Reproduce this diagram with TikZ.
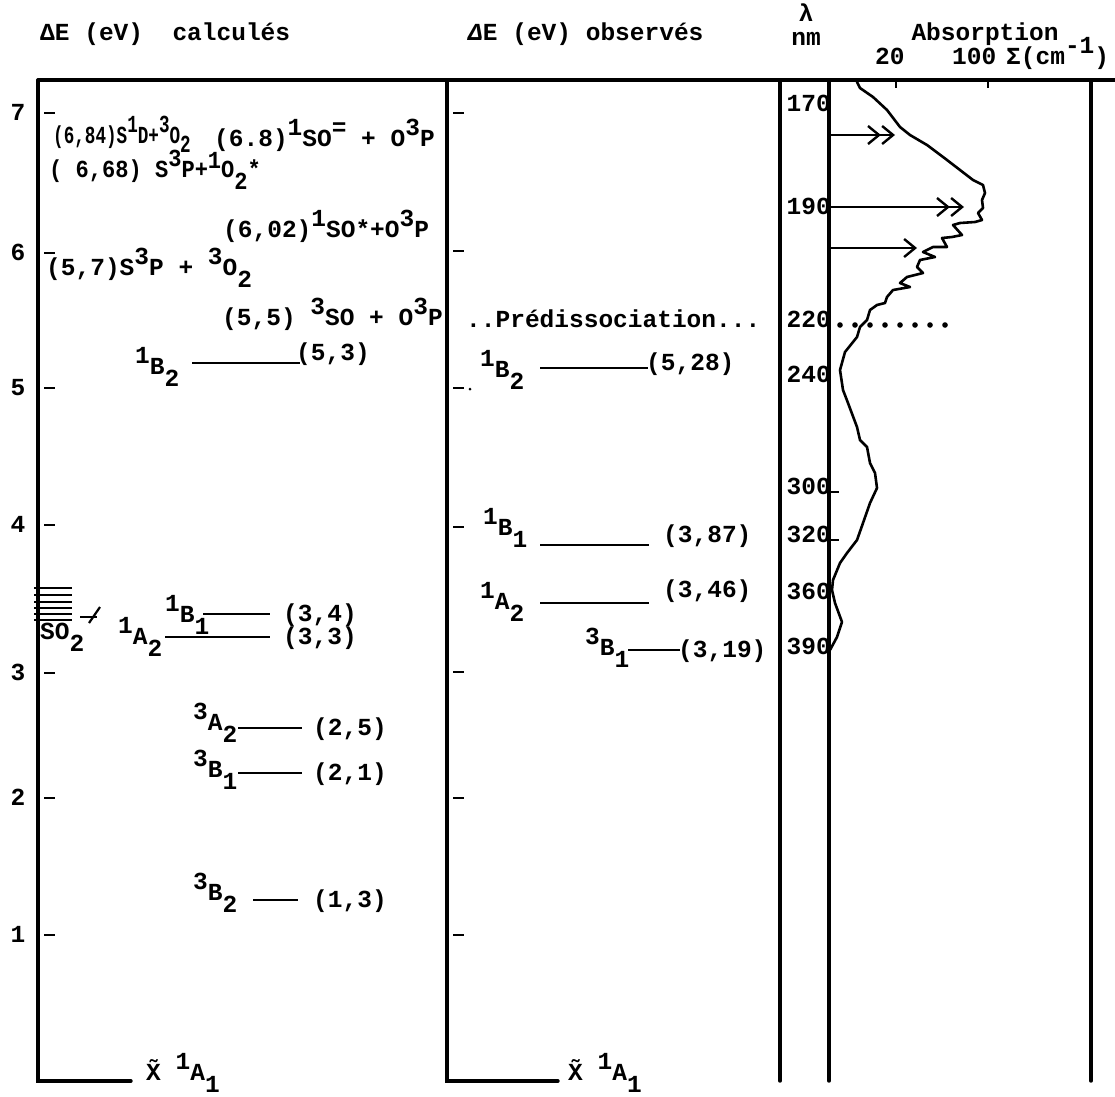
\documentclass[tikz,border=0pt]{standalone}
\usepackage{fontspec}
\newfontfamily\tw{Liberation Mono}
\usetikzlibrary{arrows.meta}
\newcommand\tsup[1]{\raisebox{11pt}{#1}}
\newcommand\tsub[1]{\raisebox{-12pt}{#1}}
\begin{document}
\begin{tikzpicture}[x=1pt,y=-1pt,
  tx/.style={font=\tw\bfseries\fontsize{24.5}{24.5}\selectfont, inner sep=0pt, anchor=base west},
  txe/.style={tx, anchor=base east},
  txc/.style={tx, anchor=base},
  frame/.style={line width=3.4pt, line cap=round},
  lvl/.style={line width=2.8pt},
  tickmark/.style={line width=2.4pt},
  curve/.style={line width=2.6pt, line join=round, line cap=round},
  arr/.style={line width=2.4pt},
  dbl/.style={arr, -{Straight Barb[length=11pt,width=18pt,line width=2.4pt] Straight Barb[length=11pt,width=18pt,line width=2.4pt]}},
  sgl/.style={arr, -{Straight Barb[length=11pt,width=18pt,line width=2.4pt]}}]

\useasboundingbox (0,0) rectangle (1115,1096);
\fill[white] (0,0) rectangle (1115,1096);

% ---------- frame ----------
\draw[frame] (38,80) -- (1115,80);
\draw[frame] (38,80) -- (38,1081) -- (131,1081);
\draw[frame] (447,80) -- (447,1081) -- (558,1081);
\draw[frame] (780,80) -- (780,1081);
\draw[frame] (829,80) -- (829,1081);
\draw[frame] (1091,80) -- (1091,1081);

% ---------- headings ----------
\node[tx] (h1) at (40,40) {ΔE (eV)~ calculés};
\node[tx] (h2) at (468,40) {{\itshape Δ}E (eV) observés};
\node[txc] (lam) at (806,21) {λ};
\node[txc] (nm) at (806,45) {nm};
\node[txc] (abs) at (985,40) {Absorption};
\node[tx] (t20) at (875,64) {20};
\node[tx] (t100) at (952,64) {100};
\node[tx] (sig) at (1006,64) {Σ(cm\tsup{-1})};
\draw[tickmark] (896,80) -- (896,88);
\draw[tickmark] (988,80) -- (988,88);

% ---------- energy axis ----------
\foreach \v/\yy in {7/113,6/253,5/388,4/525,3/673,2/798,1/935}{
  \node[txc] (ax\v) at (18,\yy+7) {\v};
  \draw[tickmark] (44,\yy) -- (55,\yy);
}
\foreach \yy in {113,251,388,527,672,798,935}{
  \draw[tickmark] (453,\yy) -- (464,\yy);
}
\fill (470,389) circle (1.5);

% ---------- calculated column ----------
\node[tx] (r1a) at (53,143) {\scalebox{0.72}[1]{(6,84)S\tsup{1}D+\tsup{3}O\raisebox{-9pt}{2}}};
\node[tx] (r1b) at (214,146) {(6.8)\tsup{1}SO\tsup{=} + O\tsup{3}P};
\node[tx] (r2) at (49,177) {\scalebox{0.9}[1]{( 6,68) S\tsup{3}P+\raisebox{9pt}{1}O\tsub{2}*}};
\node[tx] (r3) at (223,237) {(6,02)\tsup{1}SO*+O\tsup{3}P};
\node[tx] (r4) at (46,275) {(5,7)S\tsup{3}P + \tsup{3}O\tsub{2}};
\node[tx] (r5) at (222,325) {(5,5) \tsup{3}SO + O\tsup{3}P};

\node[tx] (cB2) at (135,374) {\tsup{1}B\tsub{2}};
\draw[lvl] (192,363) -- (300,363);
\node[tx] (vB2) at (296,360) {(5,3)};

\node[tx] (cB1) at (165,622) {\tsup{1}B\tsub{1}};
\draw[lvl] (203,614) -- (270,614);
\node[tx] (vB1) at (283,621) {(3,4)};

\node[tx] (cA2) at (118,644) {\tsup{1}A\tsub{2}};
\draw[lvl] (165,637) -- (270,637);
\node[tx] (vA2) at (283,644) {(3,3)};

\node[tx] (tA2) at (193,730) {\tsup{3}A\tsub{2}};
\draw[lvl] (238,728) -- (302,728);
\node[tx] (wA2) at (313,735) {(2,5)};

\node[tx] (tB1) at (193,777) {\tsup{3}B\tsub{1}};
\draw[lvl] (238,773) -- (302,773);
\node[tx] (wB1) at (313,780) {(2,1)};

\node[tx] (tB2) at (193,900) {\tsup{3}B\tsub{2}};
\draw[lvl] (253,900) -- (298,900);
\node[tx] (wB2) at (313,907) {(1,3)};

% SO2 stack
\foreach \yy in {588,595,602,608,614,620}{
  \draw[line width=2.8pt] (34,\yy) -- (72,\yy);
}
\draw[line width=2.8pt] (80,617) -- (97,617);
\draw[line width=2.2pt] (89,623) -- (100,607);
\node[tx] (so2) at (40,639) {SO\tsub{2}};

\node[tx] (gs1) at (146,1080) {\~X \tsup{1}A\tsub{1}};

% ---------- observed column ----------
\node[tx] (pred) at (466,327) {..Prédissociation...};

\node[tx] (oB2) at (480,377) {\tsup{1}B\tsub{2}};
\draw[lvl] (540,368) -- (648,368);
\node[tx] (pB2) at (646,370) {(5,28)};

\node[tx] (oB1) at (483,535) {\tsup{1}B\tsub{1}};
\draw[lvl] (540,545) -- (649,545);
\node[tx] (pB1) at (663,542) {(3,87)};

\node[tx] (oA2) at (480,609) {\tsup{1}A\tsub{2}};
\draw[lvl] (540,603) -- (649,603);
\node[tx] (pA2) at (663,597) {(3,46)};

\node[tx] (o3B1) at (585,655) {\tsup{3}B\tsub{1}};
\draw[lvl] (628,650) -- (680,650);
\node[tx] (p3B1) at (678,657) {(3,19)};

\node[tx] (gs2) at (568,1080) {\~X \tsup{1}A\tsub{1}};

% ---------- wavelength column ----------
\foreach \w/\yy in {170/104,190/207,220/320,240/375,300/487,320/535,360/592,390/647}{
  \node[txe] (l\w) at (831,\yy+7) {\w};
}
\draw[tickmark] (829,492) -- (839,492);
\draw[tickmark] (829,540) -- (839,540);
\foreach \k in {0,...,7}{
  \fill (840+15*\k,325) circle (2.8);
}

% ---------- absorption ----------
\coordinate (a1s) at (831,135); \coordinate (a1e) at (895,135);
\coordinate (a2s) at (831,207); \coordinate (a2e) at (964,207);
\coordinate (a3s) at (831,248); \coordinate (a3e) at (917,248);
\draw[dbl] (a1s) -- (a1e);
\draw[dbl] (a2s) -- (a2e);
\draw[sgl] (a3s) -- (a3e);

\draw[curve] plot coordinates {
(857,82) (860,88) (873,97) (887,110) (900,127) (910,135) (927,145) (947,160)
(960,170) (973,180) (983,185) (985,193) (982,200) (983,208) (978,213) (982,220)
(975,222) (960,223) (953,225) (962,235) (952,237) (942,238) (947,247) (933,247)
(923,252) (935,257) (920,260) (917,267) (923,273) (907,277) (900,283) (910,287)
(893,290) (887,297) (885,303) (877,305) (870,310) (867,320) (860,327) (857,337)
(853,342) (845,352) (840,370) (843,390) (848,403) (857,427) (860,440) (867,447)
(870,463) (875,473) (877,488) (870,503) (863,523) (857,540) (847,553) (840,563)
(833,580) (832,590) (835,603) (842,622) (837,637) (830,650)};
\end{tikzpicture}
\end{document}
